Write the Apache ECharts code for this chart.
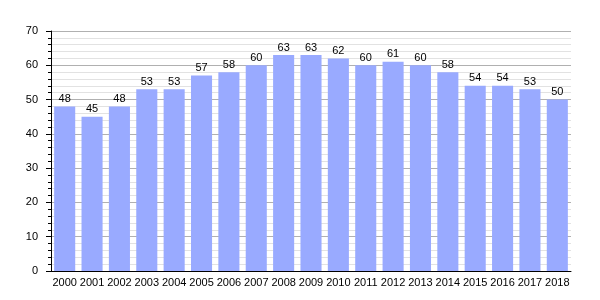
<!DOCTYPE html>
<html>
<head>
<meta charset="utf-8">
<script src="https://cdn.jsdelivr.net/npm/echarts@6/dist/echarts.min.js"></script>
<style>
  html, body { margin: 0; padding: 0; background: #fff; }
  #chart { width: 600px; height: 300px; }
</style>
</head>
<body>
<div id="chart"></div>
<script>
// data
const years = ['2000','2001','2002','2003','2004','2005','2006','2007','2008','2009',
               '2010','2011','2012','2013','2014','2015','2016','2017','2018'];
const values = [48,45,48,53,53,57,58,60,63,63,62,60,61,60,58,54,54,53,50];

const chart = echarts.init(document.getElementById('chart'));
chart.setOption({
  animation: false,
  textStyle: { fontFamily: 'Liberation Sans, Arial, sans-serif' },
  grid: { left: 51, right: 29, top: 31, bottom: 29 },
  xAxis: {
    type: 'category',
    data: years,
    axisLine: { lineStyle: { color: '#000', width: 1 } },
    axisTick: { show: false },
    axisLabel: { color: '#000', fontSize: 11, margin: 6, interval: 0 }
  },
  yAxis: {
    type: 'value',
    min: 0, max: 70, interval: 10,
    axisLine: { show: true, lineStyle: { color: '#000' } },
    axisTick: { show: true, inside: false, length: 5, lineStyle: { color: '#000' } },
    minorTick: { show: true, splitNumber: 5, length: 3, lineStyle: { color: '#000' } },
    axisLabel: { color: '#000', fontSize: 11, margin: 13 },
    splitLine: { lineStyle: { color: '#b0b0b0', width: 1 } },
    minorSplitLine: { show: true, lineStyle: { color: '#e2e2e2', width: 1 } }
  },
  series: [{
    type: 'bar',
    data: values,
    barCategoryGap: '23%',
    itemStyle: { color: '#99aaff' },
    label: { show: true, position: 'top', color: '#000', fontSize: 11, distance: 2 }
  }]
});
</script>
</body>
</html>
